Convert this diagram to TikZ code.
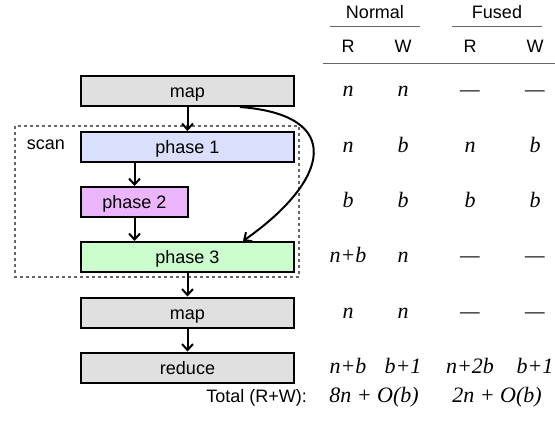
\documentclass[tikz,border=0pt]{standalone}
\usepackage{fontspec}
\setmainfont{Liberation Sans}
\newfontfamily\tms{Liberation Serif}
\usetikzlibrary{arrows.meta}
\definecolor{mapgray}{RGB}{224,224,224}
\definecolor{pone}{RGB}{218,224,252}
\definecolor{ptwo}{RGB}{236,180,250}
\definecolor{pthree}{RGB}{204,253,204}
\begin{document}
\begin{tikzpicture}[x=1pt,y=-1pt,
  box/.style={draw, line width=2pt, minimum height=30pt, inner sep=0pt,
    text height=13pt, text depth=0pt,
    font=\fontsize{18}{21}\selectfont},
  conn/.style={line width=2pt, -{Straight Barb[length=6pt,width=11pt,line width=2pt]}},
  hd/.style={font=\fontsize{18}{21}\selectfont, anchor=base, inner sep=0pt},
  mt/.style={font=\tms\itshape\fontsize{22}{25}\selectfont, anchor=base, inner sep=0pt},
  rl/.style={line width=1pt, draw=black!60}]
\useasboundingbox (0,0) rectangle (555,432);
% boxes
\node[box, fill=mapgray, minimum width=213pt] (map1) at (187.5,91) {map};
\node[box, fill=pone, minimum width=213pt] (ph1) at (187.5,147) {phase 1};
\node[box, fill=ptwo, minimum width=107pt] (ph2) at (134.5,202) {phase 2};
\node[box, fill=pthree, minimum width=213pt] (ph3) at (187.5,257) {phase 3};
\node[box, fill=mapgray, minimum width=213pt] (map2) at (187.5,312.5) {map};
\node[box, fill=mapgray, minimum width=213pt] (red) at (187.5,367.5) {reduce};
% scan region
\draw[line width=1.5pt, draw=black!60, dash pattern=on 3pt off 3pt] (15,126) rectangle (299,277);
\node[hd, anchor=base] (scan) at (46,149) {scan};
% connectors
\draw[conn] (map1) -- (ph1);
\draw[conn] (ph1.south -| ph2) -- (ph2);
\draw[conn] (ph2) -- (ph2 |- ph3.north);
\draw[conn] (ph3) -- (map2);
\draw[conn] (map2) -- (red);
\coordinate (cs) at (240,106);
\coordinate (ce) at (243,242);
\draw[conn] (map1.south -| cs) .. controls (345,115) and (330,180) .. (ph3.north -| ce);
% table header
\node[hd] (hN) at (375,18) {Normal};
\node[hd] (hF) at (497,18) {Fused};
\coordinate (n1) at (330,26); \coordinate (n2) at (420,26);
\coordinate (f1) at (452,26); \coordinate (f2) at (542,26);
\draw[rl] (n1) -- (n2);
\draw[rl] (f1) -- (f2);
\node[hd] (hR1) at (348,52) {R};
\node[hd] (hW1) at (403,52) {W};
\node[hd] (hR2) at (470,52) {R};
\node[hd] (hW2) at (535,52) {W};
\coordinate (t1) at (323,63); \coordinate (t2) at (555,63);
\draw[rl] (t1) -- (t2);
% rows
\node[mt] (a1) at (348,96) {n};
\node[mt] (b1) at (403,96) {n};
\node[mt] (c1) at (470,96) {—};
\node[mt] (d1) at (535,96) {—};
\node[mt] (a2) at (348,152) {n};
\node[mt] (b2) at (403,152) {b};
\node[mt] (c2) at (470,152) {n};
\node[mt] (d2) at (535,152) {b};
\node[mt] (a3) at (348,207) {b};
\node[mt] (b3) at (403,207) {b};
\node[mt] (c3) at (470,207) {b};
\node[mt] (d3) at (535,207) {b};
\node[mt] (a4) at (348,262) {n+b};
\node[mt] (b4) at (403,262) {n};
\node[mt] (c4) at (470,262) {—};
\node[mt] (d4) at (535,262) {—};
\node[mt] (a5) at (348,318) {n};
\node[mt] (b5) at (403,318) {n};
\node[mt] (c5) at (470,318) {—};
\node[mt] (d5) at (535,318) {—};
\node[mt] (a6) at (348,373) {n+b};
\node[mt] (b6) at (403,373) {b+1};
\node[mt] (c6) at (470,373) {n+2b};
\node[mt] (d6) at (535,373) {b+1};
% totals
\node[hd, anchor=base east] (tot) at (307,402) {Total (R+W):};
\node[mt] (tn) at (374,402) {8n + O(b)};
\node[mt] (tf) at (497,402) {2n + O(b)};
\end{tikzpicture}
\end{document}
